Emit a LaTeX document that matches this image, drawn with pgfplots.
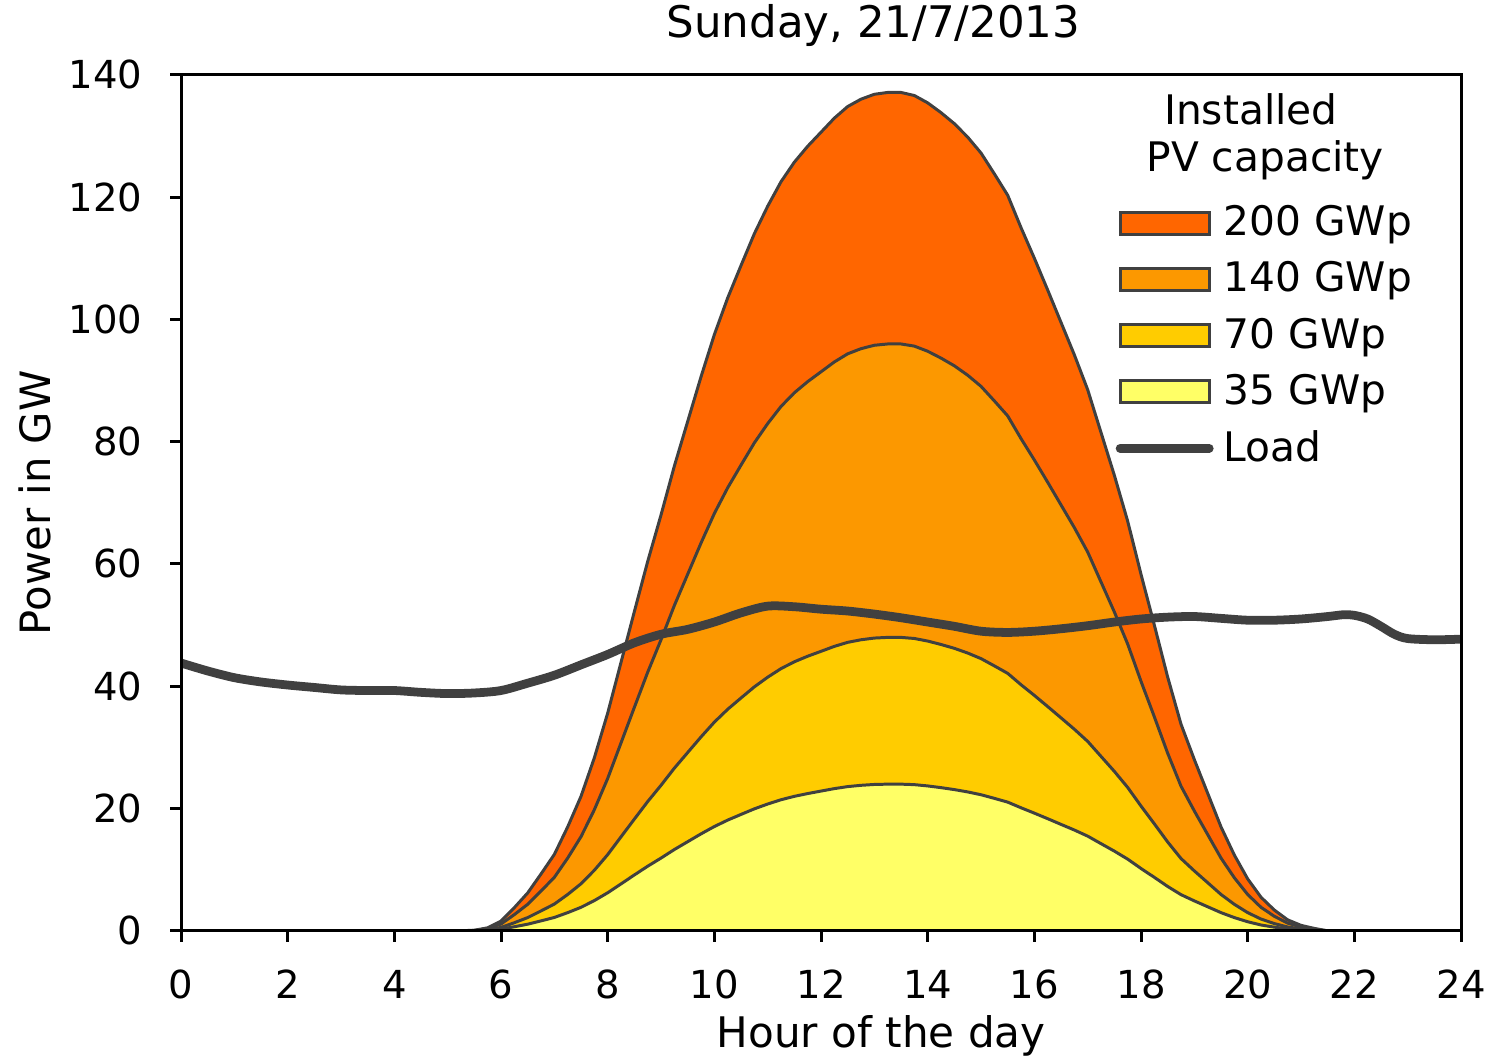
\documentclass[border=0pt]{standalone}
\usepackage{fontspec}
\setmainfont{DejaVu Sans}
\usepackage{pgfplots}
\pgfplotsset{compat=1.18}
\usepackage{pgfplotstable}
\definecolor{cA}{HTML}{FF6600}
\definecolor{cB}{HTML}{FC9800}
\definecolor{cC}{HTML}{FFCC00}
\definecolor{cD}{HTML}{FFFF66}
\definecolor{dk}{HTML}{404040}

\pgfplotsset{
  my area/.style={draw=dk, line width=0.85pt, fill=#1, area legend,
    legend image code/.code={\draw[##1, line width=0.85pt] (0pt,-3.1pt) rectangle (25.4pt,3.1pt);}},
  my load/.style={dk, line width=2.5pt, smooth, line cap=round,
    legend image code/.code={\draw[##1] (0pt,0pt) -- (25.4pt,0pt);}},
}

\pgfplotstableread{
h p200 p140 p70 p35
5.00 0 0 0 0
5.25 0.02 0.01 0.01 0.0
5.50 0.1 0.07 0.04 0.02
5.75 0.5 0.35 0.18 0.09
6.00 1.6 1.12 0.56 0.28
6.25 3.8 2.66 1.33 0.67
6.50 6.2 4.34 2.17 1.09
6.75 9.3 6.51 3.26 1.63
7.00 12.5 8.75 4.38 2.19
7.25 17.0 11.9 5.95 2.98
7.50 22.0 15.4 7.7 3.85
7.75 28.3 19.81 9.91 4.95
8.00 35.6 24.92 12.46 6.23
8.25 43.9 30.73 15.37 7.68
8.50 52.2 36.54 18.27 9.14
8.75 60.4 42.28 21.14 10.57
9.00 68.0 47.6 23.8 11.9
9.25 76.0 53.2 26.6 13.3
9.50 83.3 58.31 29.16 14.58
9.75 90.6 63.42 31.71 15.86
10.00 97.5 68.25 34.13 17.06
10.25 103.5 72.45 36.23 18.11
10.50 108.8 76.16 38.08 19.04
10.75 114.0 79.8 39.9 19.95
11.00 118.5 82.95 41.48 20.74
11.25 122.5 85.75 42.88 21.44
11.50 125.7 87.99 44.0 22.0
11.75 128.3 89.81 44.91 22.45
12.00 130.6 91.42 45.71 22.86
12.25 132.9 93.03 46.52 23.26
12.50 134.8 94.36 47.18 23.59
12.75 136.0 95.2 47.6 23.8
13.00 136.8 95.76 47.88 23.94
13.25 137.1 95.97 47.99 23.99
13.50 137.1 95.97 47.99 23.99
13.75 136.6 95.62 47.81 23.91
14.00 135.4 94.78 47.39 23.7
14.25 133.8 93.66 46.83 23.42
14.50 132.0 92.4 46.2 23.1
14.75 129.8 90.86 45.43 22.72
15.00 127.2 89.04 44.52 22.26
15.25 123.8 86.66 43.33 21.67
15.50 120.3 84.21 42.11 21.05
15.75 115.0 80.5 40.25 20.13
16.00 110.0 77.0 38.5 19.25
16.25 104.8 73.36 36.68 18.34
16.50 99.5 69.65 34.83 17.41
16.75 94.2 65.94 32.97 16.49
17.00 88.5 61.95 30.98 15.49
17.25 81.5 57.05 28.53 14.26
17.50 74.5 52.15 26.08 13.04
17.75 67.0 46.9 23.45 11.73
18.00 58.3 40.81 20.41 10.2
18.25 50.0 35.0 17.5 8.75
18.50 41.5 29.05 14.53 7.26
18.75 33.8 23.66 11.83 5.92
19.00 28.0 19.6 9.8 4.9
19.25 22.5 15.75 7.88 3.94
19.50 17.0 11.9 5.95 2.98
19.75 12.4 8.68 4.34 2.17
20.00 8.5 5.95 2.98 1.49
20.25 5.5 3.85 1.93 0.96
20.50 3.4 2.38 1.19 0.6
20.75 1.8 1.26 0.63 0.32
21.00 0.9 0.63 0.32 0.16
21.25 0.4 0.28 0.14 0.07
21.50 0 0 0 0
}\pvdata

\pgfplotstableread{
h load
0.0 43.8
0.5 42.5
1.0 41.4
1.5 40.7
2.0 40.2
2.5 39.8
3.0 39.4
3.5 39.3
4.0 39.3
4.5 39.0
5.0 38.8
5.5 38.9
6.0 39.3
6.5 40.5
7.0 41.8
7.5 43.5
8.0 45.2
8.5 47.1
9.0 48.5
9.5 49.3
10.0 50.5
10.5 52.0
11.0 53.1
11.5 53.0
12.0 52.6
12.5 52.3
13.0 51.8
13.5 51.2
14.0 50.5
14.5 49.8
15.0 49.0
15.5 48.8
16.0 49.0
16.5 49.4
17.0 49.9
17.5 50.5
18.0 51.0
18.5 51.3
19.0 51.4
19.5 51.1
20.0 50.8
20.5 50.8
21.0 51.0
21.5 51.4
21.8 51.7
22.0 51.6
22.25 51.0
22.5 49.8
22.75 48.5
23.0 47.8
23.5 47.6
24.0 47.7
}\loaddata

\begin{document}
\begin{tikzpicture}
\begin{axis}[
  scale only axis, width=364.8pt, height=244pt,
  xmin=0, xmax=24, ymin=0, ymax=140,
  xtick={0,2,...,24}, ytick={0,20,...,140},
  tick align=outside, tick pos=left,
  major tick length=3.1pt,
  axis line style={line width=0.85pt, black},
  every tick/.style={black, line width=0.85pt},
  /pgf/number format/assume math mode=true,
  tick label style={font=\fontsize{11}{13}\selectfont},
  xticklabel style={yshift=-4.6pt},
  yticklabel style={xshift=-4.4pt},
  axis on top,
  every axis title/.style={at={(axis description cs:0.541,1)}, anchor=base, yshift=10.5pt, font=\fontsize{12.4}{14}\selectfont},
  title={Sunday, 21/7/2013},
  every axis x label/.style={at={(axis description cs:0.547,0)}, anchor=base, yshift=-33.3pt, font=\fontsize{12}{14}\selectfont},
  every axis y label/.style={at={(axis description cs:-0.102,0.5)}, rotate=90, anchor=base, font=\fontsize{11.9}{14}\selectfont},
  xlabel={Hour of the day}, ylabel={Power in GW},
  legend style={draw=none, fill=none, at={(axis description cs:0.7297,0.848)}, anchor=north west,
    inner sep=0pt, row sep=5.9pt, column sep=0pt, font=\fontsize{11.6}{14}\selectfont,
    nodes={inner xsep=2.9pt, inner ysep=0pt}},
  legend cell align=left,
]
\addplot[my area=cA] table[x=h, y=p200] {\pvdata} \closedcycle;
\addlegendentry{200 GWp}
\addplot[my area=cB] table[x=h, y=p140] {\pvdata} \closedcycle;
\addlegendentry{140 GWp}
\addplot[my area=cC] table[x=h, y=p70] {\pvdata} \closedcycle;
\addlegendentry{70 GWp}
\addplot[my area=cD] table[x=h, y=p35] {\pvdata} \closedcycle;
\addlegendentry{35 GWp}
\addplot[my load] table[x=h, y=load] {\loaddata};
\addlegendentry{Load}
\node[anchor=base, font=\fontsize{11.6}{14}\selectfont] at (axis cs:20.06,131.8) {Installed};
\node[anchor=base, font=\fontsize{11.6}{14}\selectfont] at (axis cs:20.33,124.1) {PV capacity};
\end{axis}
\pgfresetboundingbox
\path (-51.59pt,-36.2pt) rectangle (373.35pt,265.3pt);
\end{tikzpicture}
\end{document}
